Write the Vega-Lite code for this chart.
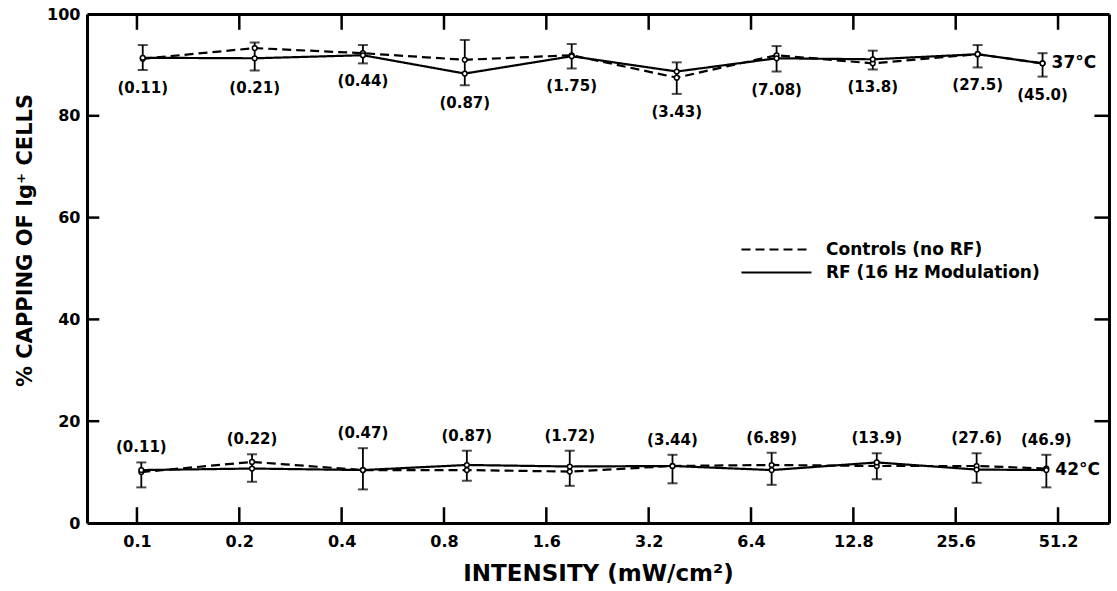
{
  "$schema": "https://vega.github.io/schema/vega-lite/v6.json",
  "width": 1022,
  "height": 509,
  "autosize": {"type": "none"},
  "padding": {"left": 87, "top": 14, "right": 8, "bottom": 68},
  "background": "white",
  "config": {"view": {"stroke": null}, "font": "DejaVu Sans", "axis": {"grid": false}},
  "datasets": {
    "pts": [
      {"temp": "37°C", "series": "Controls (no RF)", "x": 0.104, "y": 91.2},
      {"temp": "37°C", "series": "Controls (no RF)", "x": 0.222, "y": 93.3},
      {"temp": "37°C", "series": "Controls (no RF)", "x": 0.462, "y": 92.3},
      {"temp": "37°C", "series": "Controls (no RF)", "x": 0.921, "y": 91.0},
      {"temp": "37°C", "series": "Controls (no RF)", "x": 1.90, "y": 91.9},
      {"temp": "37°C", "series": "Controls (no RF)", "x": 3.87, "y": 87.5},
      {"temp": "37°C", "series": "Controls (no RF)", "x": 7.61, "y": 91.9},
      {"temp": "37°C", "series": "Controls (no RF)", "x": 14.6, "y": 90.3},
      {"temp": "37°C", "series": "Controls (no RF)", "x": 29.7, "y": 92.1},
      {"temp": "37°C", "series": "Controls (no RF)", "x": 46.1, "y": 90.3},
      {"temp": "37°C", "series": "RF (16 Hz Modulation)", "x": 0.104, "y": 91.4},
      {"temp": "37°C", "series": "RF (16 Hz Modulation)", "x": 0.222, "y": 91.3},
      {"temp": "37°C", "series": "RF (16 Hz Modulation)", "x": 0.462, "y": 91.9},
      {"temp": "37°C", "series": "RF (16 Hz Modulation)", "x": 0.921, "y": 88.3},
      {"temp": "37°C", "series": "RF (16 Hz Modulation)", "x": 1.90, "y": 91.7},
      {"temp": "37°C", "series": "RF (16 Hz Modulation)", "x": 3.87, "y": 88.7},
      {"temp": "37°C", "series": "RF (16 Hz Modulation)", "x": 7.61, "y": 91.3},
      {"temp": "37°C", "series": "RF (16 Hz Modulation)", "x": 14.6, "y": 91.1},
      {"temp": "37°C", "series": "RF (16 Hz Modulation)", "x": 29.7, "y": 92.1},
      {"temp": "37°C", "series": "RF (16 Hz Modulation)", "x": 46.1, "y": 90.3},
      {"temp": "42°C", "series": "Controls (no RF)", "x": 0.103, "y": 10.0},
      {"temp": "42°C", "series": "Controls (no RF)", "x": 0.218, "y": 12.0},
      {"temp": "42°C", "series": "Controls (no RF)", "x": 0.462, "y": 10.4},
      {"temp": "42°C", "series": "Controls (no RF)", "x": 0.934, "y": 10.4},
      {"temp": "42°C", "series": "Controls (no RF)", "x": 1.875, "y": 10.1},
      {"temp": "42°C", "series": "Controls (no RF)", "x": 3.76, "y": 11.2},
      {"temp": "42°C", "series": "Controls (no RF)", "x": 7.36, "y": 11.4},
      {"temp": "42°C", "series": "Controls (no RF)", "x": 15.0, "y": 11.2},
      {"temp": "42°C", "series": "Controls (no RF)", "x": 29.5, "y": 11.2},
      {"temp": "42°C", "series": "Controls (no RF)", "x": 47.3, "y": 10.7},
      {"temp": "42°C", "series": "RF (16 Hz Modulation)", "x": 0.103, "y": 10.4},
      {"temp": "42°C", "series": "RF (16 Hz Modulation)", "x": 0.218, "y": 10.7},
      {"temp": "42°C", "series": "RF (16 Hz Modulation)", "x": 0.462, "y": 10.4},
      {"temp": "42°C", "series": "RF (16 Hz Modulation)", "x": 0.934, "y": 11.4},
      {"temp": "42°C", "series": "RF (16 Hz Modulation)", "x": 1.875, "y": 11.1},
      {"temp": "42°C", "series": "RF (16 Hz Modulation)", "x": 3.76, "y": 11.2},
      {"temp": "42°C", "series": "RF (16 Hz Modulation)", "x": 7.36, "y": 10.4},
      {"temp": "42°C", "series": "RF (16 Hz Modulation)", "x": 15.0, "y": 11.9},
      {"temp": "42°C", "series": "RF (16 Hz Modulation)", "x": 29.5, "y": 10.5},
      {"temp": "42°C", "series": "RF (16 Hz Modulation)", "x": 47.3, "y": 10.4}
    ],
    "loc": [
      {"temp": "37°C", "x": 0.104, "lo": 89.0, "hi": 93.9, "label": "(0.11)"},
      {"temp": "37°C", "x": 0.222, "lo": 88.9, "hi": 94.4, "label": "(0.21)"},
      {"temp": "37°C", "x": 0.462, "lo": 90.3, "hi": 93.9, "label": "(0.44)"},
      {"temp": "37°C", "x": 0.921, "lo": 86.0, "hi": 94.9, "label": "(0.87)"},
      {"temp": "37°C", "x": 1.90, "lo": 89.3, "hi": 94.1, "label": "(1.75)"},
      {"temp": "37°C", "x": 3.87, "lo": 84.3, "hi": 90.5, "label": "(3.43)"},
      {"temp": "37°C", "x": 7.61, "lo": 88.7, "hi": 93.7, "label": "(7.08)"},
      {"temp": "37°C", "x": 14.6, "lo": 89.1, "hi": 92.8, "label": "(13.8)"},
      {"temp": "37°C", "x": 29.7, "lo": 89.5, "hi": 93.9, "label": "(27.5)"},
      {"temp": "37°C", "x": 46.1, "lo": 87.7, "hi": 92.3, "label": "(45.0)"},
      {"temp": "42°C", "x": 0.103, "lo": 7.0, "hi": 11.9, "label": "(0.11)"},
      {"temp": "42°C", "x": 0.218, "lo": 8.1, "hi": 13.5, "label": "(0.22)"},
      {"temp": "42°C", "x": 0.462, "lo": 6.6, "hi": 14.7, "label": "(0.47)"},
      {"temp": "42°C", "x": 0.934, "lo": 8.3, "hi": 14.2, "label": "(0.87)"},
      {"temp": "42°C", "x": 1.875, "lo": 7.3, "hi": 14.2, "label": "(1.72)"},
      {"temp": "42°C", "x": 3.76, "lo": 7.8, "hi": 13.4, "label": "(3.44)"},
      {"temp": "42°C", "x": 7.36, "lo": 7.5, "hi": 13.8, "label": "(6.89)"},
      {"temp": "42°C", "x": 15.0, "lo": 8.6, "hi": 13.7, "label": "(13.9)"},
      {"temp": "42°C", "x": 29.5, "lo": 7.9, "hi": 13.7, "label": "(27.6)"},
      {"temp": "42°C", "x": 47.3, "lo": 7.0, "hi": 13.4, "label": "(46.9)"}
    ],
    "xticks": [{"v": 0.1}, {"v": 0.2}, {"v": 0.4}, {"v": 0.8}, {"v": 1.6}, {"v": 3.2}, {"v": 6.4}, {"v": 12.8}, {"v": 25.6}, {"v": 51.2}],
    "yticks": [{"v": 20}, {"v": 40}, {"v": 60}, {"v": 80}]
  },
  "layer": [
    {
      "data": {"name": "pts"},
      "mark": {"type": "line", "color": "black", "strokeWidth": 2.2},
      "encoding": {
        "x": {"field": "x", "type": "quantitative",
          "scale": {"type": "log", "base": 2, "domain": [0.0713, 72.3], "nice": false},
          "axis": {"orient": "bottom", "values": [0.1, 0.2, 0.4, 0.8, 1.6, 3.2, 6.4, 12.8, 25.6, 51.2],
            "labelExpr": "datum.value + ''", "ticks": false,
            "domainWidth": 3, "domainColor": "black", "labelPadding": 10, "labelFont": "DejaVu Sans",
            "labelFontSize": 16, "labelFontWeight": "bold", "labelColor": "black", "labelFlush": false,
            "labelOverlap": false, "title": "INTENSITY (mW/cm²)", "titleFont": "DejaVu Sans",
            "titleFontSize": 23, "titleFontWeight": "bold", "titleColor": "black", "titleY": 50,
            "titleBaseline": "middle"}},
        "y": {"field": "y", "type": "quantitative",
          "scale": {"domain": [0, 100], "nice": false},
          "axis": {"orient": "left", "values": [0, 20, 40, 60, 80, 100], "ticks": false,
            "domainWidth": 3, "domainColor": "black", "labelPadding": 7,
            "labelFont": "DejaVu Sans", "labelFontSize": 16, "labelFontWeight": "bold", "labelColor": "black",
            "title": "% CAPPING OF Ig⁺ CELLS", "titleFont": "DejaVu Sans", "titleFontSize": 21,
            "titleFontWeight": "bold", "titleColor": "black", "titleX": -62, "titleY": 226,
            "titleAngle": -90, "titleBaseline": "middle", "titleAlign": "center"}},
        "strokeDash": {"field": "series", "type": "nominal",
          "scale": {"domain": ["Controls (no RF)", "RF (16 Hz Modulation)"], "range": [[9, 5], [1, 0]]},
          "legend": {"orient": "none", "legendX": 681, "legendY": 227, "title": null, "padding": 0,
            "symbolType": "M-5,0H5", "symbolSize": 196, "symbolStrokeWidth": 2, "symbolStrokeColor": "black",
            "labelOffset": 41, "labelFont": "DejaVu Sans", "labelFontSize": 17, "labelFontWeight": "bold",
            "labelColor": "black", "labelLimit": 400, "rowPadding": 5}},
        "detail": {"field": "temp", "type": "nominal"}
      }
    },
    {
      "data": {"name": "loc"},
      "mark": {"type": "rule", "color": "black", "strokeWidth": 1.8},
      "encoding": {
        "x": {"field": "x", "type": "quantitative",
          "scale": {"type": "log", "base": 2, "domain": [0.0713, 72.3], "nice": false},
          "axis": {"orient": "top", "values": [0.1, 0.2, 0.4, 0.8, 1.6, 3.2, 6.4, 12.8, 25.6, 51.2],
            "labels": false, "ticks": false, "domainWidth": 3, "domainColor": "black", "title": null}},
        "y": {"field": "lo", "type": "quantitative",
          "scale": {"domain": [0, 100], "nice": false},
          "axis": {"orient": "right", "values": [0, 20, 40, 60, 80, 100], "labels": false, "ticks": false,
            "domainWidth": 3, "domainColor": "black", "title": null}},
        "y2": {"field": "hi"}
      }
    },
    {
      "data": {"name": "loc"},
      "mark": {"type": "tick", "orient": "horizontal", "color": "black", "size": 10, "thickness": 2},
      "encoding": {
        "x": {"field": "x", "type": "quantitative", "scale": {"type": "log", "base": 2, "domain": [0.0713, 72.3], "nice": false}, "axis": null},
        "y": {"field": "lo", "type": "quantitative", "scale": {"domain": [0, 100], "nice": false}, "axis": null}
      }
    },
    {
      "data": {"name": "loc"},
      "mark": {"type": "tick", "orient": "horizontal", "color": "black", "size": 10, "thickness": 2},
      "encoding": {
        "x": {"field": "x", "type": "quantitative", "scale": {"type": "log", "base": 2, "domain": [0.0713, 72.3], "nice": false}, "axis": null},
        "y": {"field": "hi", "type": "quantitative", "scale": {"domain": [0, 100], "nice": false}, "axis": null}
      }
    },
    {
      "data": {"name": "xticks"},
      "mark": {"type": "rule", "color": "black", "strokeWidth": 2.5},
      "encoding": {
        "x": {"field": "v", "type": "quantitative", "scale": {"type": "log", "base": 2, "domain": [0.0713, 72.3], "nice": false}, "axis": null},
        "y": {"datum": 0, "type": "quantitative", "scale": {"domain": [0, 100], "nice": false}, "axis": null},
        "y2": {"datum": 3.1}
      }
    },
    {
      "data": {"name": "xticks"},
      "mark": {"type": "rule", "color": "black", "strokeWidth": 2.5},
      "encoding": {
        "x": {"field": "v", "type": "quantitative", "scale": {"type": "log", "base": 2, "domain": [0.0713, 72.3], "nice": false}, "axis": null},
        "y": {"datum": 100, "type": "quantitative", "scale": {"domain": [0, 100], "nice": false}, "axis": null},
        "y2": {"datum": 96.9}
      }
    },
    {
      "data": {"name": "yticks"},
      "mark": {"type": "rule", "color": "black", "strokeWidth": 2.5},
      "encoding": {
        "y": {"field": "v", "type": "quantitative", "scale": {"domain": [0, 100], "nice": false}, "axis": null},
        "x": {"datum": 0.0713, "type": "quantitative", "scale": {"type": "log", "base": 2, "domain": [0.0713, 72.3], "nice": false}, "axis": null},
        "x2": {"datum": 0.0775}
      }
    },
    {
      "data": {"name": "yticks"},
      "mark": {"type": "rule", "color": "black", "strokeWidth": 2.5},
      "encoding": {
        "y": {"field": "v", "type": "quantitative", "scale": {"domain": [0, 100], "nice": false}, "axis": null},
        "x": {"datum": 72.3, "type": "quantitative", "scale": {"type": "log", "base": 2, "domain": [0.0713, 72.3], "nice": false}, "axis": null},
        "x2": {"datum": 65.5}
      }
    },
    {
      "data": {"name": "pts"},
      "mark": {"type": "point", "shape": "circle", "size": 22, "filled": true, "fill": "white", "stroke": "black", "strokeWidth": 1.5, "opacity": 1},
      "encoding": {
        "x": {"field": "x", "type": "quantitative", "scale": {"type": "log", "base": 2, "domain": [0.0713, 72.3], "nice": false}, "axis": null},
        "y": {"field": "y", "type": "quantitative", "scale": {"domain": [0, 100], "nice": false}, "axis": null}
      }
    },
    {
      "data": {"name": "loc"},
      "transform": [{"filter": "datum.temp == '37°C'"}],
      "mark": {"type": "text", "font": "DejaVu Sans", "fontSize": 15, "fontWeight": "bold", "color": "black", "baseline": "middle", "dy": 18},
      "encoding": {
        "x": {"field": "x", "type": "quantitative", "scale": {"type": "log", "base": 2, "domain": [0.0713, 72.3], "nice": false}, "axis": null},
        "y": {"field": "lo", "type": "quantitative", "scale": {"domain": [0, 100], "nice": false}, "axis": null},
        "text": {"field": "label"}
      }
    },
    {
      "data": {"name": "loc"},
      "transform": [{"filter": "datum.temp == '42°C'"}],
      "mark": {"type": "text", "font": "DejaVu Sans", "fontSize": 15, "fontWeight": "bold", "color": "black", "baseline": "middle", "dy": -15},
      "encoding": {
        "x": {"field": "x", "type": "quantitative", "scale": {"type": "log", "base": 2, "domain": [0.0713, 72.3], "nice": false}, "axis": null},
        "y": {"field": "hi", "type": "quantitative", "scale": {"domain": [0, 100], "nice": false}, "axis": null},
        "text": {"field": "label"}
      }
    },
    {
      "data": {"name": "pts"},
      "transform": [{"filter": "datum.series == 'RF (16 Hz Modulation)' && datum.x > 40"}],
      "mark": {"type": "text", "font": "DejaVu Sans", "fontSize": 17, "fontWeight": "bold", "color": "black", "align": "left", "baseline": "middle", "dx": 9},
      "encoding": {
        "x": {"field": "x", "type": "quantitative", "scale": {"type": "log", "base": 2, "domain": [0.0713, 72.3], "nice": false}, "axis": null},
        "y": {"field": "y", "type": "quantitative", "scale": {"domain": [0, 100], "nice": false}, "axis": null},
        "text": {"field": "temp"}
      }
    }
  ],
  "resolve": {"axis": {"x": "independent", "y": "independent"}}
}
